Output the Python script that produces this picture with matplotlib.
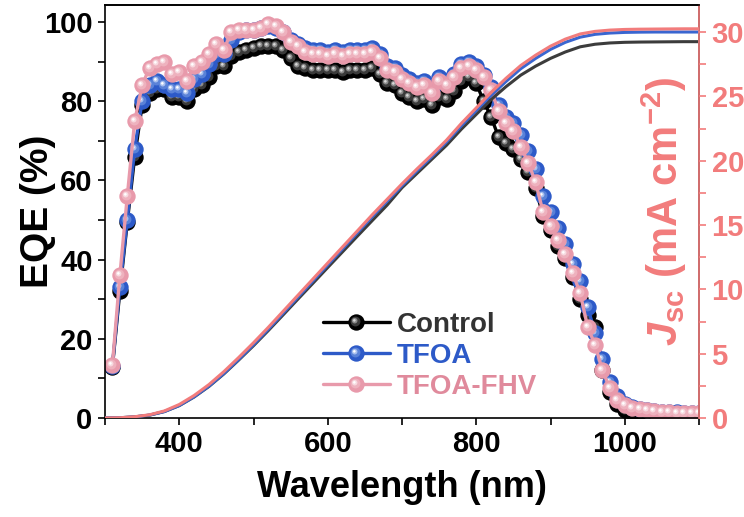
import numpy as np
import matplotlib
matplotlib.use("Agg")
import matplotlib.pyplot as plt
from matplotlib.path import Path
from matplotlib.legend_handler import HandlerTuple

# ---------------- data ----------------
wl = list(range(310, 1101, 10))

eqe_fhv = [13.5, 36, 56, 75, 84, 88.5, 89.5, 90, 87, 87.5,
           85, 89, 90, 92, 94.5, 93, 97.5, 98, 98, 98,
           98.5, 99.5, 99, 97.5, 95, 94, 92.5, 92, 92, 91.5,
           92, 91.5, 92, 92, 92, 92.5, 91, 88, 87.5, 85.5,
           84.5, 83.5, 84, 82, 85, 84, 86, 88.5, 89, 88,
           86, 82.8, 77.5, 74.5, 72.5, 68.5, 64.5, 59.5, 52, 48.5,
           45, 41.5, 36.5, 31.5, 23, 18.5, 12, 7.5, 4.5, 3.2,
           2.6, 2.2, 1.9, 1.7, 1.5, 1.4, 1.3, 1.3, 1.3, 1.2]

eqe_tfoa = [13.2, 33, 50, 68, 80, 84, 85, 84, 83, 83,
            82, 85.5, 87, 89.5, 92, 92, 95.5, 97.5, 98, 98,
            98.5, 99, 98.5, 97.5, 95.5, 94.5, 93.5, 93, 93, 92.5,
            93, 92.5, 93, 93, 93, 93.5, 92, 89, 88.5, 86.5,
            85.5, 84.5, 85, 83, 86, 85, 87, 89.5, 90, 89,
            86.5, 83.5, 79, 76, 74.5, 71.5, 67.5, 63, 56, 52,
            48, 44, 39, 34.5, 28, 21.5, 15, 9, 5.5, 3.5,
            2.8, 2.3, 2.0, 1.8, 1.6, 1.5, 1.4, 1.3, 1.3, 1.2]

eqe_ctrl = [13, 32, 49.5, 66, 79, 82, 83, 83, 81, 81,
            80, 83, 84, 86, 89, 89, 91.5, 92.5, 93, 93.5,
            94, 94, 94, 93, 91, 89, 88.5, 88, 88, 88,
            88, 87.5, 88, 88, 88, 88.5, 87, 84.5, 84, 82,
            81, 80, 80.5, 79, 81, 80.5, 82.5, 85, 86, 84.5,
            80, 76, 71, 69.5, 68, 65.5, 62, 58, 51, 47.5,
            43.5, 40.5, 35.5, 30, 26, 23, 12, 6.5, 3.5, 2.0,
            1.6, 1.4, 1.3, 1.2, 1.1, 1.1, 1.0, 1.0, 1.0, 1.0]

wl_j = list(range(300, 1101, 20))
jsc_fhv = [0, 0.02, 0.1, 0.25, 0.55, 1.05, 1.75, 2.6, 3.6, 4.7,
           5.85, 7.05, 8.3, 9.55, 10.8, 12.05, 13.3, 14.55, 15.8, 17.0,
           18.2, 19.35, 20.45, 21.6, 22.9, 24.1, 25.3, 26.4, 27.4, 28.2,
           28.9, 29.45, 29.85, 30.05, 30.15, 30.2, 30.22, 30.23, 30.24, 30.25, 30.25]
jsc_tfoa = [0, 0.02, 0.09, 0.23, 0.5, 0.97, 1.65, 2.48, 3.46, 4.55,
            5.7, 6.9, 8.15, 9.4, 10.65, 11.9, 13.15, 14.4, 15.65, 16.85,
            18.05, 19.2, 20.3, 21.45, 22.72, 23.9, 25.08, 26.15, 27.15, 27.95,
            28.65, 29.2, 29.6, 29.82, 29.92, 29.97, 29.99, 30.0, 30.0, 30.0, 30.0]
jsc_ctrl = [0, 0.02, 0.09, 0.22, 0.5, 0.96, 1.63, 2.45, 3.42, 4.5,
            5.62, 6.8, 8.02, 9.25, 10.47, 11.7, 12.92, 14.14, 15.35, 16.55,
            17.9, 19.0, 20.1, 21.2, 22.45, 23.6, 24.75, 25.75, 26.65, 27.35,
            27.95, 28.45, 28.85, 29.05, 29.15, 29.2, 29.22, 29.23, 29.24, 29.25, 29.25]

labels = ["Control", "TFOA", "TFOA-FHV"]

# ---------------- style ----------------
plt.rcParams['font.family'] = ['Liberation Sans', 'DejaVu Sans']
plt.rcParams['font.weight'] = 'bold'
plt.rcParams['mathtext.fontset'] = 'custom'
plt.rcParams['mathtext.rm'] = 'Liberation Sans:bold'
plt.rcParams['mathtext.bf'] = 'Liberation Sans:bold'
plt.rcParams['mathtext.it'] = 'Liberation Sans:italic:bold'

SALMON = '#f27c7c'
ball_cols = {
    "Control": ['#000000', '#3a3a3a', '#8a8a8a', '#d8d8d8'],
    "TFOA": ['#2d5ac8', '#5a82d8', '#a8bfee', '#ffffff'],
    "TFOA-FHV": ['#e89aab', '#eeb2be', '#f7d9df', '#ffffff'],
}
line_cols = {"Control": '#000000', "TFOA": '#2d5ac8', "TFOA-FHV": '#e89aab'}
jsc_cols = {"Control": '#3c3c3c', "TFOA": '#3a66d0', "TFOA-FHV": SALMON}
text_cols = {"Control": '#333333', "TFOA": '#2d5ac8', "TFOA-FHV": '#e08a9c'}


def spot(cx, cy, r):
    c = Path.circle((cx, cy), r)
    verts = np.vstack([[[0.5, 0.5]], [[-0.5, -0.5]], c.vertices])
    codes = [Path.MOVETO, Path.MOVETO] + list(c.codes)
    return Path(verts, codes)


spots = [spot(-0.06, 0.06, 0.3), spot(-0.11, 0.11, 0.17), spot(-0.13, 0.13, 0.08)]

MS = 11.8
fig = plt.figure(figsize=(7.44, 5.17), dpi=100)
ax = fig.add_axes([105 / 744, 99 / 517, 594 / 744, 413 / 517])

handles = []
for name, y in zip(labels, [eqe_ctrl, eqe_tfoa, eqe_fhv]):
    cols = ball_cols[name]
    base, = ax.plot(wl, y, '-', color=line_cols[name], lw=2.4, marker='o',
                    ms=MS, mfc=cols[0], mew=0, solid_capstyle='round')
    parts = [base]
    for sp, c in zip(spots, cols[1:]):
        h, = ax.plot(wl, y, ls='none', marker=sp, ms=MS, mfc=c, mew=0)
        parts.append(h)
    handles.append(tuple(parts))

ax.set_xlim(300, 1100)
ax.set_ylim(0, 104.3)
ax.set_xticks([400, 600, 800, 1000])
ax.set_xticks([300, 500, 700, 900, 1100], minor=True)
ax.set_yticks([0, 20, 40, 60, 80, 100])
ax.set_yticks([10, 30, 50, 70, 90], minor=True)
ax.tick_params(which='both', direction='out', length=5, width=1.2, labelsize=21, pad=4)
ax.tick_params(axis='y', which='both', right=False)
ax.set_xlabel('Wavelength (nm)', fontsize=26, fontweight='bold', labelpad=8)
ax.set_ylabel('EQE (%)', fontsize=28, fontweight='bold')
ax.yaxis.set_label_coords(-0.082, 0.5)
for s in ax.spines.values():
    s.set_linewidth(1.2)

ax2 = ax.twinx()
for name, y in zip(labels, [jsc_ctrl, jsc_tfoa, jsc_fhv]):
    ax2.plot(wl_j, y, '-', color=jsc_cols[name], lw=2.2)
ax2.set_ylim(0, 32.1)
ax2.set_yticks([0, 5, 10, 15, 20, 25, 30])
ax2.set_yticks([2.5, 7.5, 12.5, 17.5, 22.5, 27.5], minor=True)
ax2.tick_params(which='both', direction='out', length=5, width=1.2, labelsize=21,
                colors=SALMON, pad=4)
ax2.spines['right'].set_color(SALMON)
ax2.spines['right'].set_linewidth(1.2)
ax2.spines['left'].set_visible(False)
ax2.spines['bottom'].set_visible(False)
ax2.spines['top'].set_linewidth(1.2)
ax2.set_ylabel(r'$J_{\mathrm{sc}}$ (mA cm$^{\mathrm{-2}}$)', fontsize=30,
               fontweight='bold', color=SALMON)
ax2.yaxis.set_label_coords(0.9, 0.5)

leg = ax2.legend(handles, labels, handler_map={tuple: HandlerTuple(ndivide=1, pad=0)},
                 loc='center left', bbox_to_anchor=(0.367, 0.151), frameon=False,
                 fontsize=20, handlelength=2.4, handletextpad=0.25,
                 labelspacing=0.18, borderpad=0, borderaxespad=0)
for t, name in zip(leg.get_texts(), labels):
    t.set_color(text_cols[name])

fig.savefig('out.png', dpi=100)
